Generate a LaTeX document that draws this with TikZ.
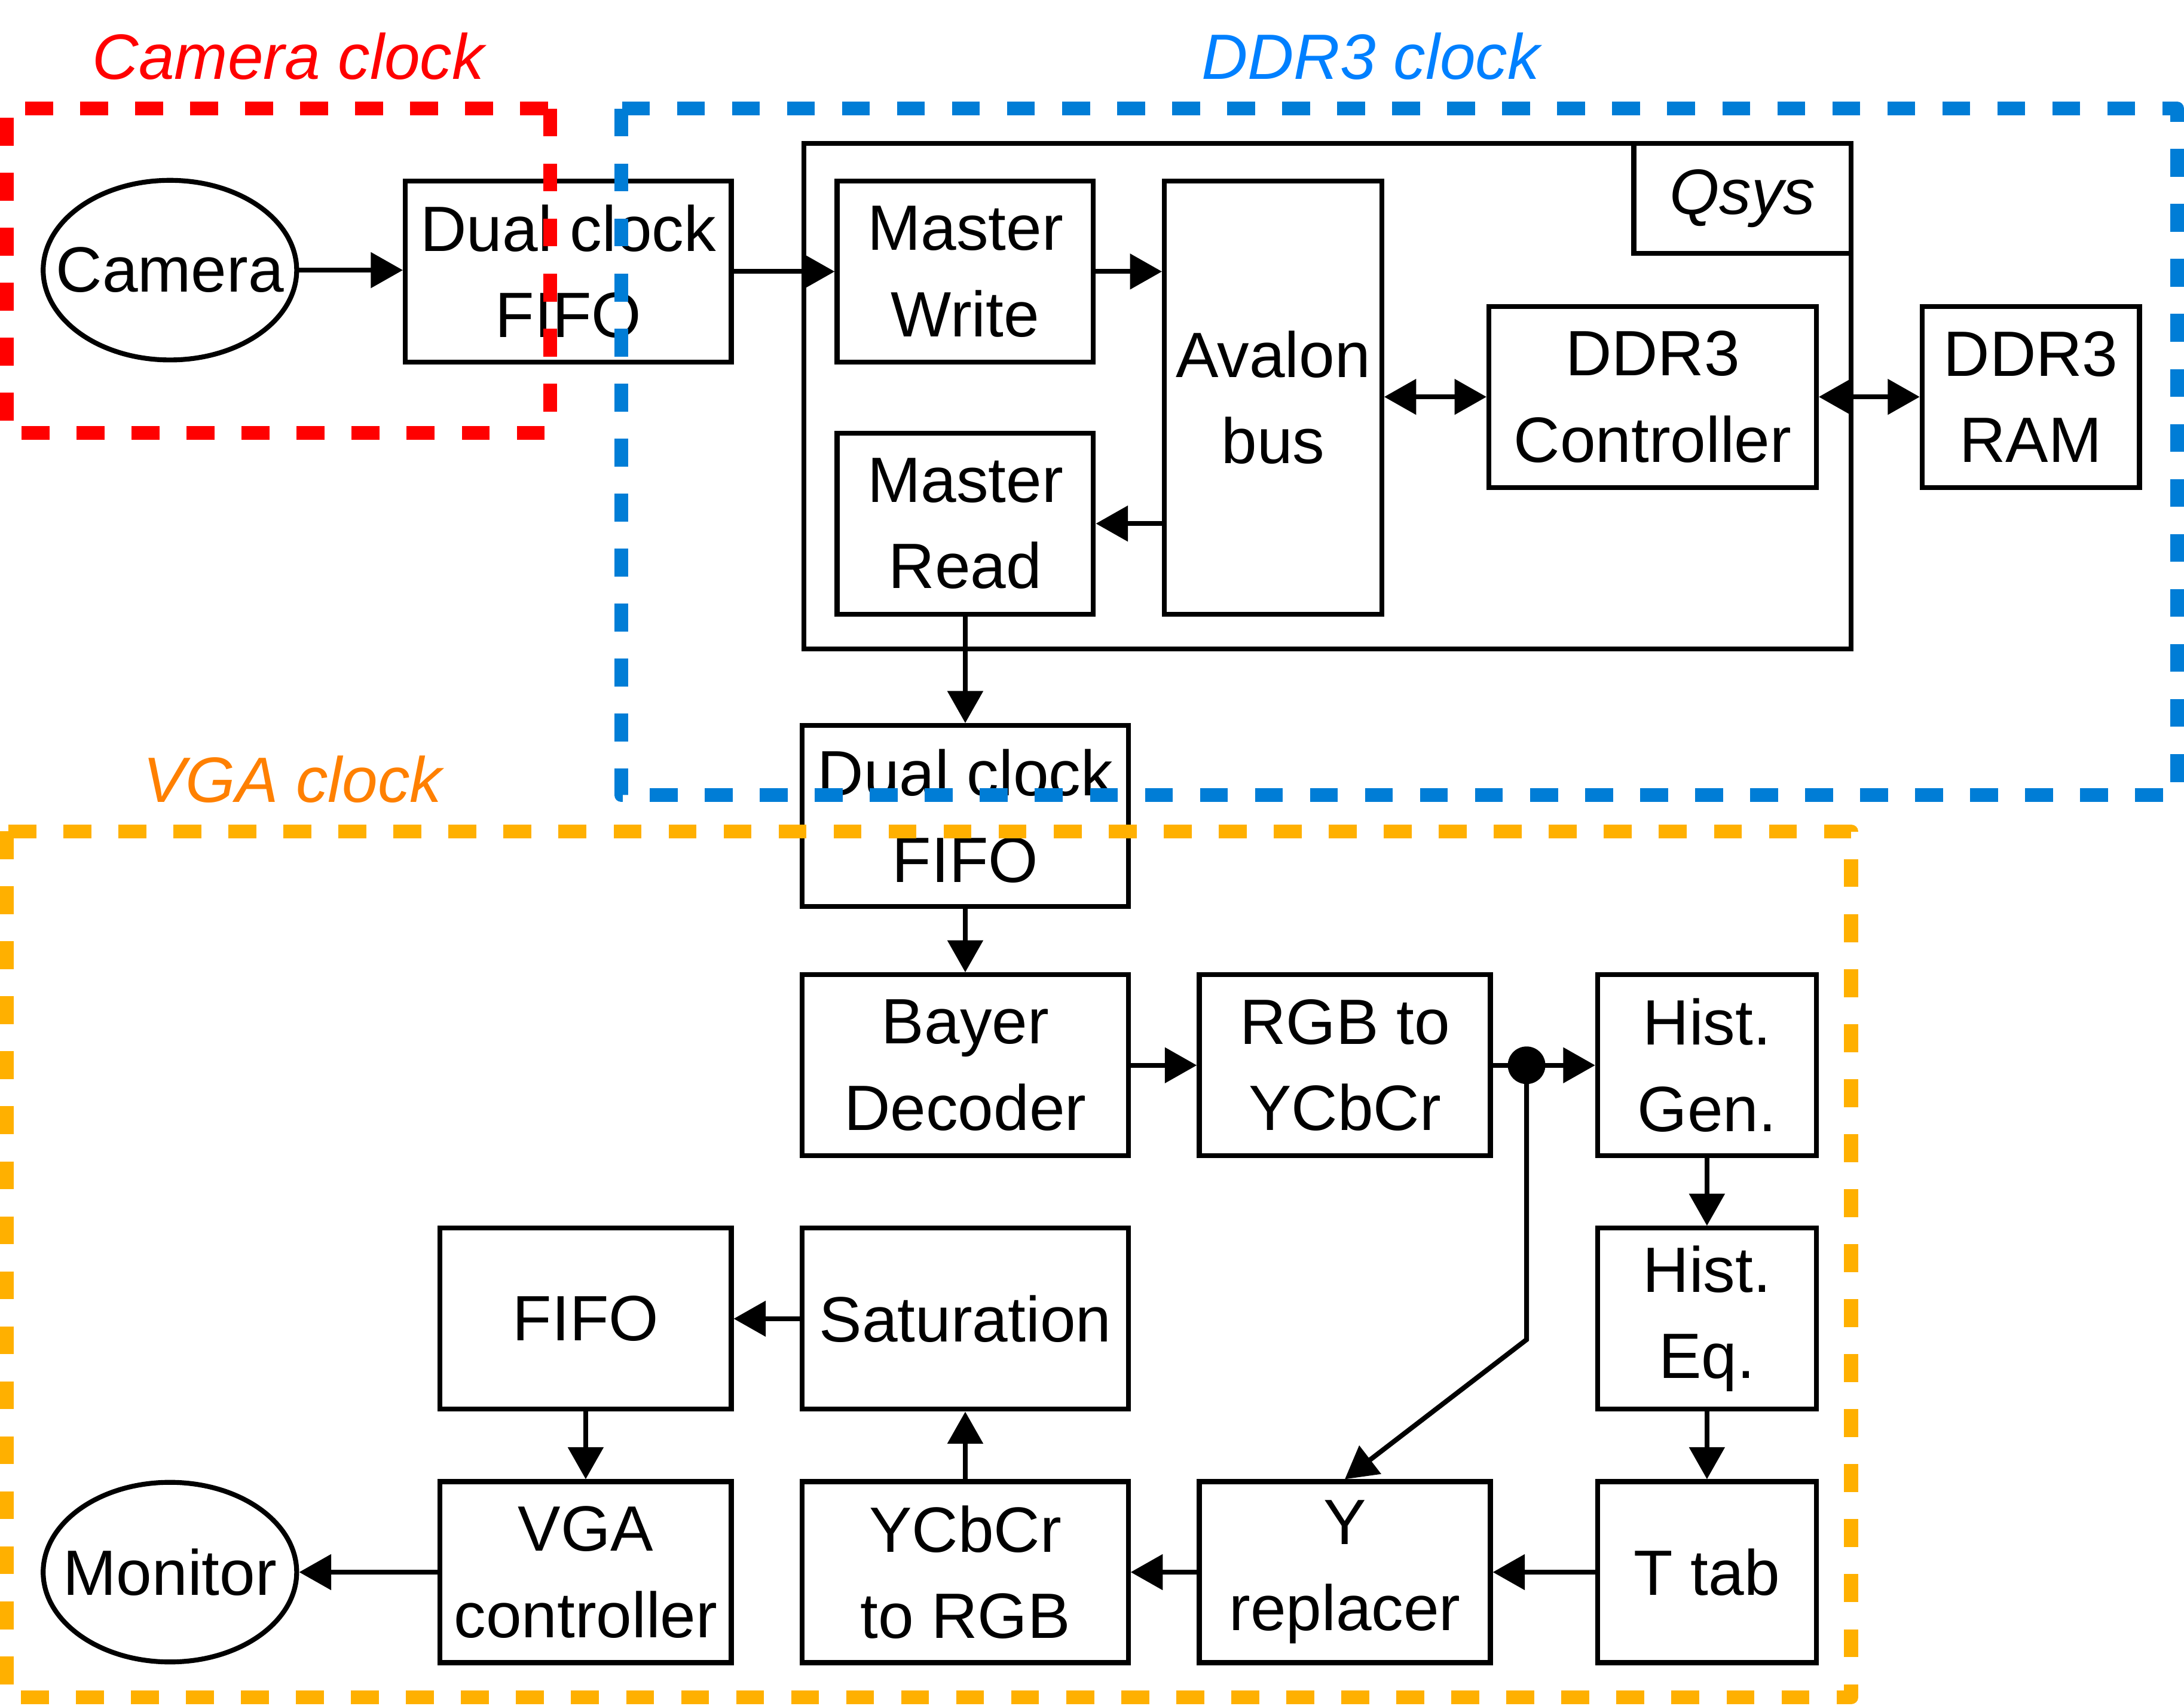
\documentclass[tikz,border=0pt]{standalone}
\usepackage{fontspec}
\setmainfont{Liberation Sans}
\usetikzlibrary{arrows.meta,shapes.geometric}
\definecolor{cred}{RGB}{255,0,0}
\definecolor{cblue}{RGB}{0,125,214}
\definecolor{cbluet}{RGB}{0,128,255}
\definecolor{corange}{RGB}{255,176,0}
\definecolor{corangt}{RGB}{255,128,0}
\begin{document}
\begin{tikzpicture}[x=1pt,y=-1pt,
  blk/.style={draw, line width=3.5pt, fill=white, inner sep=0pt, align=center,
    font=\fontsize{46}{62}\selectfont},
  oval/.style={blk, ellipse, minimum width=182pt, minimum height=129pt},
  arr/.style={line width=3.5pt, -{Triangle[length=23pt,width=25pt]}},
  darr/.style={line width=3.5pt, {Triangle[length=23pt,width=25pt]}-{Triangle[length=23pt,width=25pt]}},
  zone/.style={line width=10pt, dash pattern=on 20pt off 19.5pt, line join=round},
  lab/.style={font=\fontsize{46}{55}\selectfont\itshape, anchor=base, inner sep=0pt}]
\useasboundingbox (0,0) rectangle (1568,1225);

% nodes
\node[oval] (camera) at (122,194) {\makebox[0pt]{Camera}};
\node[blk, minimum width=234pt, minimum height=130pt] (fifo1) at (408,195) {Dual clock\\FIFO};
\node[blk, minimum width=752pt, minimum height=363pt] (qsys) at (953,284.5) {};
\node[blk, minimum width=156pt, minimum height=79pt] (qlab) at (1251,142.5) {\itshape Qsys};
\node[blk, minimum width=184pt, minimum height=130pt] (mwrite) at (693,195) {Master\\Write};
\node[blk, minimum width=184pt, minimum height=130pt] (mread) at (693,376) {Master\\Read};
\node[blk, minimum width=156pt, minimum height=311pt] (avalon) at (914,285.5) {Avalon\\bus};
\node[blk, minimum width=235pt, minimum height=130pt] (ddrc) at (1186.5,285) {DDR3\\Controller};
\node[blk, minimum width=156pt, minimum height=130pt] (ram) at (1458,285) {DDR3\\RAM};
\node[blk, minimum width=234pt, minimum height=130pt] (fifo2) at (693,586) {Dual clock\\FIFO};
\node[blk, minimum width=234pt, minimum height=130pt] (bayer) at (693,765) {Bayer\\Decoder};
\node[blk, minimum width=209pt, minimum height=130pt] (rgb) at (965.5,765) {RGB to\\YCbCr};
\node[blk, minimum width=157pt, minimum height=130pt] (hgen) at (1225.5,765) {Hist.\\Gen.};
\node[blk, minimum width=157pt, minimum height=130pt] (heq) at (1225.5,947) {Hist.\\Eq.};
\node[blk, minimum width=157pt, minimum height=130pt] (ttab) at (1225.5,1129) {T tab};
\node[blk, minimum width=209pt, minimum height=130pt] (yrep) at (965.5,1129) {Y\\replacer};
\node[blk, minimum width=234pt, minimum height=130pt] (ytoc) at (693,1129) {YCbCr\\to RGB};
\node[blk, minimum width=234pt, minimum height=130pt] (sat) at (693,947) {Saturation};
\node[blk, minimum width=209pt, minimum height=130pt] (fifo3) at (420.5,947) {FIFO};
\node[blk, minimum width=209pt, minimum height=130pt] (vga) at (420.5,1129) {VGA\\controller};
\node[oval] (monitor) at (122,1129) {\makebox[0pt]{Monitor}};
\node[circle, fill, inner sep=0pt, minimum size=27pt] (dot) at (1096,765) {};
\coordinate (bend) at (1096,962);

% connectors
\draw[arr] (camera.east) -- (camera.east -| fifo1.west);
\draw[arr] (fifo1.east) -- (mwrite.west);
\draw[arr] (mwrite.east) -- (mwrite.east -| avalon.west);
\draw[arr] (avalon.west |- mread.east) -- (mread.east);
\draw[darr] (avalon.east |- ddrc.west) -- (ddrc.west);
\draw[darr] (ddrc.east) -- (ram.west);
\draw[arr] (mread.south) -- (fifo2.north);
\draw[arr] (fifo2.south) -- (bayer.north);
\draw[arr] (bayer.east) -- (rgb.west);
\draw[arr] (rgb.east) -- (hgen.west);
\draw[arr] (dot.center) -- (bend) -- (yrep.north);
\draw[arr] (hgen.south) -- (heq.north);
\draw[arr] (heq.south) -- (ttab.north);
\draw[arr] (ttab.west) -- (yrep.east);
\draw[arr] (yrep.west) -- (ytoc.east);
\draw[arr] (ytoc.north) -- (sat.south);
\draw[arr] (sat.west) -- (fifo3.east);
\draw[arr] (fifo3.south) -- (vga.north);
\draw[arr] (vga.west) -- (monitor.east);

% clock domains
\draw[zone, cred] (395,78) -- (395,311) -- (5,311) -- (5,78) -- cycle;
\draw[zone, cblue] (446,78) rectangle (1563,571);
\draw[zone, corange] (5,597) rectangle (1329,1219);

\node[lab, text=cred] (lcam) at (207,57) {Camera clock};
\node[lab, text=cbluet] (lddr) at (984,57) {DDR3 clock};
\node[lab, text=corangt] (lvga) at (210,576) {VGA clock};
\end{tikzpicture}
\end{document}
